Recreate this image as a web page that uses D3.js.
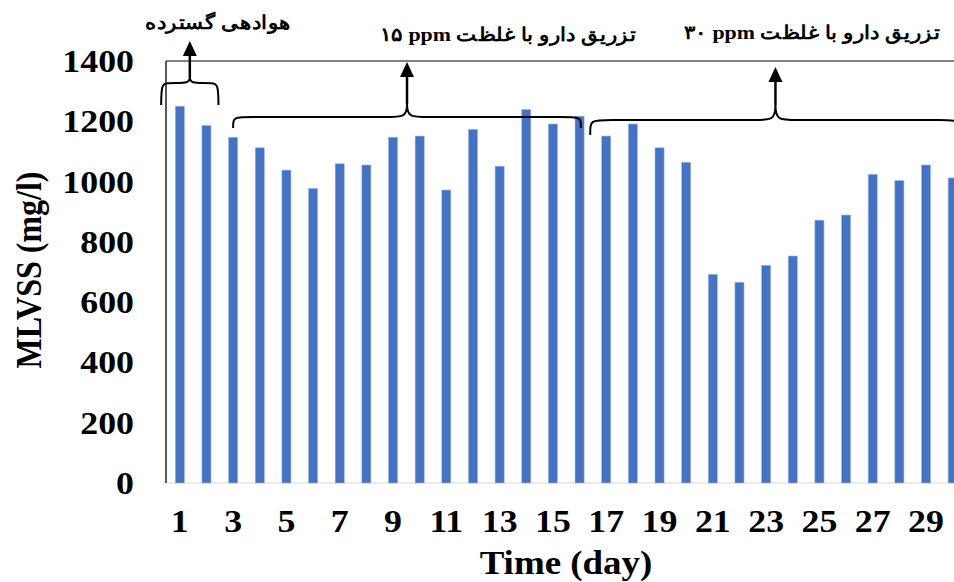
<!DOCTYPE html>
<html>
<head>
<meta charset="utf-8">
<script src="https://cdn.jsdelivr.net/npm/d3@7"></script>
<style>
  html, body { margin: 0; padding: 0; background: #fff; }
  svg { display: block; }
  text { font-family: "Liberation Serif", "Times New Roman", serif; font-weight: bold; fill: #000; }
</style>
</head>
<body>
<svg id="chart" width="954" height="582"></svg>
<script>
// ---- data ----
const days = d3.range(1, 31);
const mlvss = [1250, 1186, 1147, 1112, 1038, 977, 1059, 1055, 1147, 1151,
               972, 1173, 1051, 1239, 1191, 1217, 1151, 1191, 1112, 1064,
               692, 666, 722, 753, 872, 889, 1024, 1003, 1055, 1012];
const yTicks = [0, 200, 400, 600, 800, 1000, 1200, 1400];
const xTickDays = days.filter(d => d % 2 === 1);
const phaseLabels = ["هوادهی گسترده",
                     "تزریق دارو با غلظت ppm\u200F ۱۵",
                     "تزریق دارو با غلظت ppm\u200F ۳۰"];
const phaseStart = [0.3, 3.0, 16.4];
const phaseEnd = [2.45, 16.05, 30.3];

// ---- layout ----
const svg = d3.select("#chart");
const pLeft = 166.5, pRight = 966, pTop = 61, pBottom = 483;
const SX = 1.12;

const x = d3.scaleBand().domain(days).range([pLeft, pRight]).paddingInner(0.66).paddingOuter(0.33);
const y = d3.scaleLinear().domain([0, 1400]).range([pBottom, pTop]);
const xc = d => x(d) + x.bandwidth() / 2;
const xd = d3.scaleLinear().domain([1, 30]).range([xc(1), xc(30)]);

// top border
svg.append("line").attr("x1", pLeft - 0.5).attr("x2", 954).attr("y1", pTop).attr("y2", pTop)
  .attr("stroke", "#5a5a5a").attr("stroke-width", 1.5);
// bottom axis line
svg.append("line").attr("x1", pLeft - 0.5).attr("x2", 954).attr("y1", pBottom).attr("y2", pBottom)
  .attr("stroke", "#d9d9d9").attr("stroke-width", 1.2);

// bars
svg.append("g").selectAll("rect").data(days).join("rect")
  .attr("x", d => x(d))
  .attr("width", x.bandwidth())
  .attr("y", (d, i) => y(mlvss[i]))
  .attr("height", (d, i) => y(0) - y(mlvss[i]))
  .attr("fill", "#4472C4")
  .attr("stroke", "#9db5e3")
  .attr("stroke-width", 0.6);

// left axis line
svg.append("line").attr("x1", pLeft - 0.5).attr("x2", pLeft - 0.5).attr("y1", pTop).attr("y2", pBottom)
  .attr("stroke", "#000").attr("stroke-width", 1.3);

// y tick labels
svg.append("g").selectAll("text").data(yTicks).join("text")
  .attr("transform", d => `translate(134,${y(d) + 11}) scale(${SX},1)`)
  .attr("text-anchor", "end")
  .attr("font-size", 32)
  .text(d => d);

// x tick labels
svg.append("g").selectAll("text").data(xTickDays).join("text")
  .attr("transform", d => `translate(${xc(d)},532) scale(${SX},1)`)
  .attr("text-anchor", "middle")
  .attr("font-size", 32)
  .text(d => d);

// axis titles
svg.append("text")
  .attr("transform", `translate(566,574) scale(${SX},1)`)
  .attr("text-anchor", "middle").attr("font-size", 33)
  .text("Time (day)");
svg.append("text")
  .attr("transform", `translate(41,270) rotate(-90) scale(1,${SX})`)
  .attr("text-anchor", "middle").attr("font-size", 32)
  .text("MLVSS (mg/l)");

// braces + arrows
const braceTop = [83, 117, 120];
const braceDrop = [22, 11, 15];
const tipRise = [6, 13, 15];
const arrowTop = [41, 62, 67];
const labelX = [218, 508, 812];
const labelY = [29, 41, 39];

function bracePath(x1, x2, yT, drop, rise) {
  const m = (x1 + x2) / 2;
  const r = Math.min(22, (x2 - x1) / 4);
  return `M${x1},${yT + drop} C${x1},${yT} ${x1},${yT} ${x1 + r},${yT}` +
         ` L${m - r},${yT} C${m - 4},${yT} ${m},${yT} ${m},${yT - rise}` +
         ` C${m},${yT} ${m + 4},${yT} ${m + r},${yT}` +
         ` L${x2 - r},${yT} C${x2},${yT} ${x2},${yT} ${x2},${yT + drop}`;
}

const ann = svg.append("g");
phaseLabels.forEach((lab, i) => {
  const x1 = xd(phaseStart[i]), x2 = xd(phaseEnd[i]);
  const m = (x1 + x2) / 2;
  ann.append("path")
    .attr("d", bracePath(x1, x2, braceTop[i], braceDrop[i], tipRise[i]))
    .attr("fill", "none").attr("stroke", "#000").attr("stroke-width", 2);
  const stemBottom = braceTop[i] - tipRise[i];
  const headBase = arrowTop[i] + 15;
  ann.append("line").attr("x1", m).attr("x2", m).attr("y1", stemBottom).attr("y2", headBase)
    .attr("stroke", "#000").attr("stroke-width", 2.5);
  ann.append("path")
    .attr("d", `M${m - 7},${headBase} L${m + 7},${headBase} L${m},${arrowTop[i]} Z`)
    .attr("fill", "#000");
  ann.append("text")
    .attr("transform", `translate(${labelX[i]},${labelY[i]}) scale(${SX},1)`)
    .attr("text-anchor", "middle")
    .attr("direction", "rtl")
    .attr("font-size", 19.5)
    .text(lab);
});
</script>
</body>
</html>
